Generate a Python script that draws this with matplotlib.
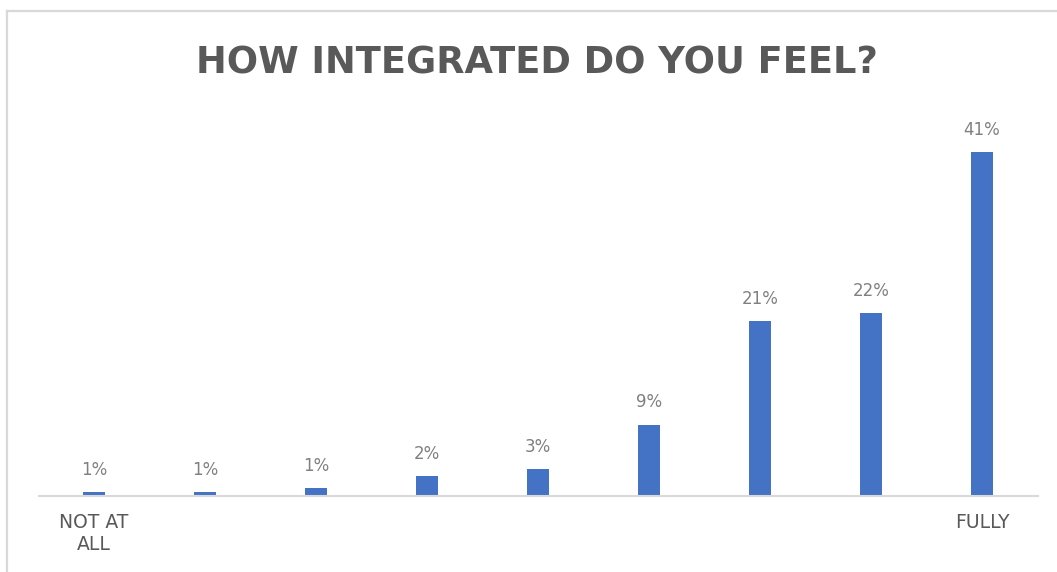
import matplotlib
matplotlib.use("Agg")
import matplotlib.pyplot as plt
from matplotlib.lines import Line2D
import matplotlib.transforms as mtransforms

categories = ["NOT AT\nALL", "", "", "", "", "", "", "", "FULLY"]
values = [0.45, 0.45, 0.9, 2.4, 3.2, 8.5, 20.8, 21.8, 41.0]
value_labels = ["1%", "1%", "1%", "2%", "3%", "9%", "21%", "22%", "41%"]
title = "HOW INTEGRATED DO YOU FEEL?"

W, H = 1057, 572
fig = plt.figure(figsize=(W / 100, H / 100), dpi=100)
fig.patch.set_facecolor("white")

# chart frame (top and left borders visible)
fig.add_artist(Line2D([7 / W, 7 / W], [0, (H - 11) / H], transform=fig.transFigure,
                      color="#d9d9d9", lw=1.6))
fig.add_artist(Line2D([7 / W, 1.0], [(H - 11) / H, (H - 11) / H], transform=fig.transFigure,
                      color="#d9d9d9", lw=1.6))

left_px, right_px = 38.5, 1037.5
base_px = 496
ymax = 45
px_per_unit = 344 / 41.0
ax = fig.add_axes([left_px / W, (H - base_px) / H, (right_px - left_px) / W,
                   ymax * px_per_unit / H])

x = list(range(len(values)))
ax.bar(x, values, width=0.19, color="#4472c4", zorder=2)
ax.set_xlim(-0.5, len(values) - 0.5)
ax.set_ylim(0, ymax)

for s in ["top", "right", "left"]:
    ax.spines[s].set_visible(False)
ax.spines["bottom"].set_color("#d9d9d9")
ax.spines["bottom"].set_linewidth(1.5)
ax.set_yticks([])
ax.set_xticks([])
ax.patch.set_alpha(0)

for xi, v, lab in zip(x, values, value_labels):
    ax.annotate(lab, (xi, v), xytext=(0, 12.5), textcoords="offset points",
                ha="center", va="baseline", fontsize=12, color="#808080",
                family="DejaVu Sans")

trans = mtransforms.blended_transform_factory(ax.transData, fig.transFigure)
for xi, c in zip(x, categories):
    if c:
        ax.text(xi, (H - 513) / H, c, transform=trans, ha="center", va="top",
                fontsize=13.5, color="#595959", family="DejaVu Sans",
                linespacing=1.2, multialignment="center")

fig.text(537 / W, (H - 73) / H, title, ha="center", va="baseline",
         fontsize=26.5, fontweight="bold", color="#595959", family="DejaVu Sans")

fig.savefig("out.png", dpi=100, facecolor="white")
